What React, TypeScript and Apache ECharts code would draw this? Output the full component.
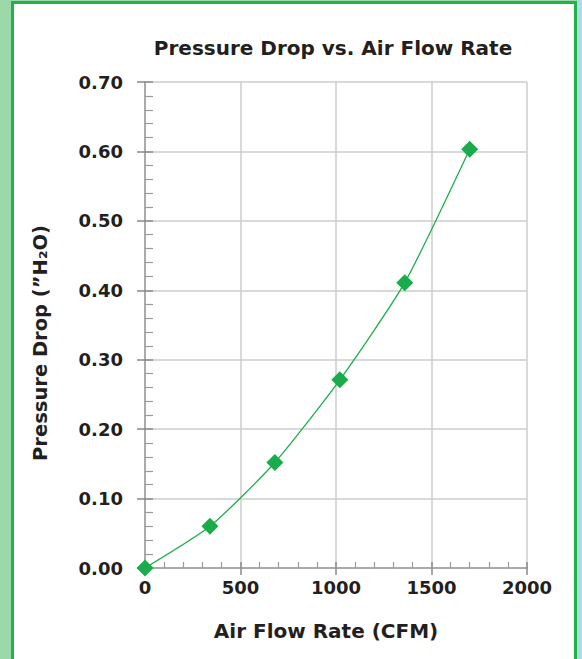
import React, { useEffect, useRef } from "react";
import * as echarts from "echarts";

const flowRate = [0, 340, 680, 1020, 1360, 1700];
const pressureDrop = [0, 0.06, 0.152, 0.271, 0.411, 0.603];
const titleText = "Pressure Drop vs. Air Flow Rate";
const xName = "Air Flow Rate (CFM)";
const yName = "Pressure Drop (”H₂O)";

const FONT = "DejaVu Sans";
const TEXT = "#231f20";
const GREEN = "#1fae4c";

export default function App() {
  const ref = useRef<HTMLDivElement>(null);
  useEffect(() => {
    if (!ref.current) return;
    const chart = echarts.init(ref.current, null, { renderer: "svg" });
    const seriesData = flowRate.map((x, i) => [x, pressureDrop[i]]);
    const axisBase = {
      gridIndex: 0,
      type: "value" as const,
    };
    chart.setOption({
      animation: false,
      backgroundColor: "#ffffff",
      graphic: [
        { type: "rect", left: 0, top: 0, shape: { width: 12, height: 659 }, style: { fill: "#9bd9aa" }, z: 0 },
        { type: "rect", left: 0, top: 0, shape: { width: 582, height: 1 }, style: { fill: "#9bd9aa" }, z: 0 },
        { type: "rect", left: 577, top: 0, shape: { width: 5, height: 659 }, style: { fill: "#a9dfe2" }, z: 0 },
        { type: "rect", left: 11, top: 1, shape: { width: 3, height: 658 }, style: { fill: "#22b24c" }, z: 1 },
        { type: "rect", left: 11, top: 1, shape: { width: 566, height: 3 }, style: { fill: "#22b24c" }, z: 1 },
        { type: "rect", left: 574, top: 1, shape: { width: 3, height: 658 }, style: { fill: "#22b24c" }, z: 1 },
      ],
      title: {
        text: titleText,
        left: 328,
        textAlign: "center",
        top: 33,
        textStyle: { fontFamily: FONT, fontWeight: "bold", fontSize: 20, color: TEXT },
      },
      grid: { left: 145, right: 55, top: 82, bottom: 91, containLabel: false },
      xAxis: [
        {
          ...axisBase,
          min: 0,
          max: 2000,
          interval: 500,
          position: "bottom",
          name: xName,
          nameLocation: "middle",
          nameGap: 53,
          nameTextStyle: {
            fontFamily: FONT,
            fontWeight: "bold",
            fontSize: 20,
            color: TEXT,
            padding: [0, 20, 0, 0],
          },
          axisLine: { show: true, lineStyle: { color: "#aaaaaa", width: 2 } },
          axisTick: { show: true, inside: false, length: 7, lineStyle: { color: "#8a8a8a", width: 1.5 } },
          axisLabel: {
            show: true,
            margin: 10,
            fontFamily: FONT,
            fontWeight: "bold",
            fontSize: 18,
            color: TEXT,
            formatter: (v: number) => String(v),
          },
          splitLine: { show: true, lineStyle: { color: "#cccccc", width: 1.5 } },
        },
        {
          ...axisBase,
          min: 0,
          max: 2000,
          interval: 500,
          position: "bottom",
          axisLine: { show: false },
          axisTick: { show: true, inside: true, length: 6, lineStyle: { color: "#8a8a8a", width: 1.5 } },
          minorTick: { show: true, splitNumber: 5, length: 6, lineStyle: { color: "#9a9a9a", width: 1.2 } },
          axisLabel: { show: false },
          splitLine: { show: false },
        },
      ],
      yAxis: [
        {
          ...axisBase,
          min: 0,
          max: 0.7,
          interval: 0.1,
          position: "left",
          name: yName,
          nameLocation: "middle",
          nameGap: 95,
          nameRotate: 90,
          nameTextStyle: {
            fontFamily: FONT,
            fontWeight: "bold",
            fontSize: 19.5,
            color: TEXT,
            padding: [0, 36, 0, 0],
          },
          axisLine: { show: true, lineStyle: { color: "#aaaaaa", width: 2 } },
          axisTick: { show: true, inside: false, length: 8, lineStyle: { color: "#8a8a8a", width: 1.5 } },
          axisLabel: {
            show: true,
            margin: 22,
            fontFamily: FONT,
            fontWeight: "bold",
            fontSize: 18,
            color: TEXT,
            formatter: (v: number) => v.toFixed(2),
          },
          splitLine: { show: true, lineStyle: { color: "#cccccc", width: 1.5 } },
        },
        {
          ...axisBase,
          min: 0,
          max: 0.7,
          interval: 0.1,
          position: "left",
          axisLine: { show: false },
          axisTick: { show: true, inside: true, length: 8, lineStyle: { color: "#8a8a8a", width: 1.5 } },
          minorTick: { show: true, splitNumber: 5, length: 8, lineStyle: { color: "#9a9a9a", width: 1.2 } },
          axisLabel: { show: false },
          splitLine: { show: false },
        },
      ],
      series: [
        {
          type: "line",
          xAxisIndex: 0,
          yAxisIndex: 0,
          data: seriesData,
          smooth: 0.2,
          symbol: "diamond",
          symbolSize: 17,
          lineStyle: { color: GREEN, width: 1.3 },
          itemStyle: { color: "#1aab4b" },
          z: 5,
        },
      ],
    });
    return () => chart.dispose();
  }, []);
  return (
    <div
      ref={ref}
      style={{ position: "absolute", left: 0, top: 0, width: 582, height: 659 }}
    />
  );
}
